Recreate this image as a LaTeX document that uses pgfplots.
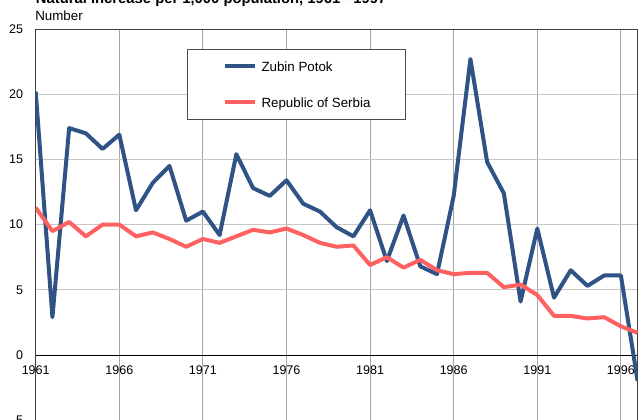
\documentclass[border=0pt]{standalone}
\usepackage{pgfplots}
\pgfplotsset{compat=1.18}
\usepackage{fontspec}
\setmainfont{Liberation Sans}
\definecolor{zpblue}{HTML}{2F5385}
\definecolor{srred}{HTML}{FF6161}
\pgfplotstableread{
year zp sr
1961 20.2 11.3
1962 2.9 9.5
1963 17.4 10.2
1964 17.0 9.1
1965 15.8 10.0
1966 16.9 10.0
1967 11.1 9.1
1968 13.2 9.4
1969 14.5 8.9
1970 10.3 8.3
1971 11.0 8.9
1972 9.2 8.6
1973 15.4 9.1
1974 12.8 9.6
1975 12.2 9.4
1976 13.4 9.7
1977 11.6 9.2
1978 11.0 8.6
1979 9.8 8.3
1980 9.1 8.4
1981 11.1 6.9
1982 7.2 7.5
1983 10.7 6.7
1984 6.8 7.3
1985 6.2 6.5
1986 12.2 6.2
1987 22.7 6.3
1988 14.8 6.3
1989 12.4 5.2
1990 4.1 5.4
1991 9.7 4.6
1992 4.4 3.0
1993 6.5 3.0
1994 5.3 2.8
1995 6.1 2.9
1996 6.1 2.2
1997 -2.0 1.7
}\datatable
\begin{document}
\begin{tikzpicture}
\path[use as bounding box] (0,0) rectangle (482.25pt,314.25pt);
\begin{scope}
\clip (0,0) rectangle (482.25pt,314.25pt);
\begin{axis}[
  at={(26.775pt,-0.9pt)}, anchor=south west,
  x=12.54pt, y=9.78pt,
  xmin=1961, xmax=1997, ymin=-5, ymax=25,
  xtick={1961,1966,...,1996},
  ytick={-5,0,...,25},
  grid=major,
  major x grid style={draw=black!35, line width=0.75pt},
  major y grid style={draw=black!22, line width=0.75pt},
  major tick length=0pt,
  axis line style={draw=black!75, line width=0.75pt},
  tick label style={font=\fontsize{9.4}{11}\selectfont},
  /pgf/number format/assume math mode=true,
  xticklabel style={/pgf/number format/1000 sep={}, inner sep=0pt, anchor=north, yshift=40.9pt},
  yticklabel style={inner sep=0pt, anchor=east, xshift=-9.3pt},
  legend cell align=left,
  legend image code/.code={\draw[#1, line width=3pt] (0pt,0pt) -- (22.5pt,0pt);},
  legend style={at={(0.2514,0.9489)}, anchor=north west, draw=black!70, line width=0.75pt, fill=white,
    inner xsep=26.25pt, inner ysep=9.17pt, row sep=19.84pt, column sep=3.75pt,
    font=\fontsize{10}{12}\selectfont,
    nodes={inner sep=0pt, text height=7.16pt, text depth=0pt}},
]
\draw[black, line width=0.75pt] (axis cs:1961,0) -- (axis cs:1997,0);
\addplot[zpblue, line width=3pt, line join=round, mark=none] table[x=year, y=zp] {\datatable};
\addlegendentry{Zubin Potok}
\addplot[srred, line width=3pt, line join=round, mark=none] table[x=year, y=sr] {\datatable};
\addlegendentry{Republic of Serbia}
\end{axis}
\node[anchor=base west, inner sep=0pt, font=\bfseries\fontsize{11.1}{13}\selectfont] at (26.8pt,311.8pt) {Natural increase per 1,000 population, 1961 - 1997};
\node[anchor=base west, inner sep=0pt, font=\fontsize{10}{12}\selectfont] at (26.3pt,298.7pt) {Number};
\end{scope}
\end{tikzpicture}
\end{document}
